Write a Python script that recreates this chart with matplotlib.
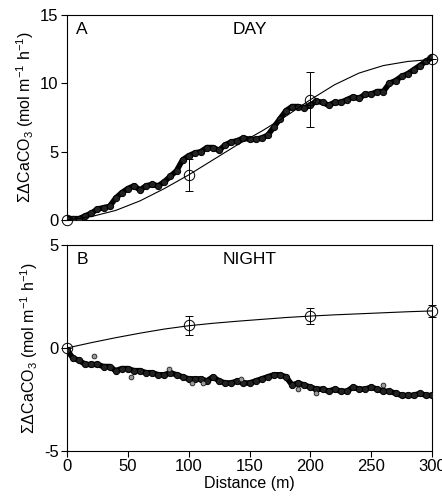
import matplotlib
matplotlib.use("Agg")
import matplotlib.pyplot as plt

plt.rcParams["font.family"] = ["Liberation Sans", "DejaVu Sans"]
plt.rcParams["mathtext.fontset"] = "custom"
plt.rcParams["mathtext.rm"] = "Liberation Sans"
plt.rcParams["mathtext.it"] = "Liberation Sans"
plt.rcParams["axes.unicode_minus"] = False

# distance axis for the continuous traces (m)
trace_x = list(range(0, 305, 5))

# panel A (day) continuous trace
day_trace = [0.1, 0.1, 0.1, 0.3, 0.5, 0.8, 0.9, 1.0, 1.6, 2.0,
             2.3, 2.5, 2.2, 2.5, 2.6, 2.5, 2.8, 3.2, 3.6, 4.4,
             4.7, 4.9, 5.0, 5.3, 5.3, 5.1, 5.5, 5.7, 5.8, 6.0,
             5.9, 5.9, 6.0, 6.2, 6.8, 7.4, 8.0, 8.3, 8.3, 8.2,
             8.4, 8.7, 8.6, 8.4, 8.6, 8.6, 8.8, 9.0, 8.9, 9.2,
             9.2, 9.4, 9.4, 10.0, 10.2, 10.5, 10.7, 11.0, 11.3, 11.6,
             11.9]

# panel B (night) continuous trace
night_trace = [-0.1, -0.5, -0.6, -0.8, -0.8, -0.8, -0.9, -0.9, -1.1, -1.0,
               -1.0, -1.1, -1.1, -1.2, -1.2, -1.3, -1.3, -1.2, -1.3, -1.4,
               -1.5, -1.5, -1.5, -1.6, -1.4, -1.6, -1.7, -1.7, -1.6, -1.7,
               -1.7, -1.6, -1.5, -1.4, -1.3, -1.3, -1.4, -1.8, -1.7, -1.8,
               -1.9, -2.0, -2.0, -2.1, -2.0, -2.1, -2.1, -1.9, -2.0, -2.0,
               -1.9, -2.0, -2.1, -2.1, -2.2, -2.3, -2.3, -2.3, -2.2, -2.3,
               -2.3]

# stray night points
night_stray_x = [22, 53, 84, 103, 112, 143, 190, 205, 260]
night_stray_y = [-0.4, -1.4, -1.0, -1.7, -1.7, -1.5, -2.0, -2.2, -1.8]

# station means with error bars
stations = [0, 100, 200, 300]
day_mean = [0.0, 3.3, 8.8, 11.8]
day_err = [0.0, 1.2, 2.0, 0.0]
night_mean = [0.0, 1.1, 1.55, 1.8]
night_err = [0.0, 0.45, 0.4, 0.3]

# fitted curves
fit_x = [0, 20, 40, 60, 80, 100, 120, 140, 160, 180, 200, 220, 240, 260, 280, 300]
day_fit = [0.0, 0.25, 0.7, 1.4, 2.3, 3.3, 4.4, 5.5, 6.5, 7.6, 8.8, 9.9, 10.75, 11.3, 11.6, 11.75]
night_fit = [0.0, 0.26, 0.5, 0.72, 0.92, 1.08, 1.2, 1.3, 1.39, 1.48, 1.55, 1.61, 1.66, 1.71, 1.76, 1.8]

ylabel = r"$\Sigma\Delta$CaCO$_3$ (mol m$^{-1}$ h$^{-1}$)"

fig = plt.figure(figsize=(4.42, 4.98), dpi=100)
ax_a = fig.add_axes([0.1516, 0.5582, 0.8258, 0.4117])
ax_b = fig.add_axes([0.1516, 0.0944, 0.8258, 0.4136])


def draw_panel(ax, trace, fit, mean, err, letter, title):
    ax.plot(trace_x, trace, color="black", lw=4, zorder=2, solid_capstyle="round")
    ax.plot(trace_x, trace, ls="none", marker="o", ms=4.5, mfc="#222222",
            mec="black", mew=0.7, zorder=3)
    ax.plot(fit_x, fit, color="black", lw=0.8, zorder=4)
    ax.errorbar(stations, mean, yerr=err, fmt="o", ms=7.5, mfc="none",
                mec="black", mew=0.7, ecolor="black", elinewidth=0.7,
                capsize=3, capthick=0.7, zorder=5, clip_on=False)
    ax.text(0.025, 0.965, letter, transform=ax.transAxes, ha="left", va="top",
            fontsize=12.5)
    ax.text(0.5, 0.965, title, transform=ax.transAxes, ha="center", va="top",
            fontsize=12.5)
    ax.set_xlim(0, 300)
    for s in ax.spines.values():
        s.set_linewidth(0.8)
    ax.tick_params(direction="out", length=4, width=0.8, labelsize=12, pad=2)
    ax.set_ylabel(ylabel, fontsize=11.5, labelpad=3)


draw_panel(ax_a, day_trace, day_fit, day_mean, day_err, "A", "DAY")
ax_a.set_ylim(0, 15)
ax_a.set_yticks([0, 5, 10, 15])
ax_a.tick_params(axis="x", bottom=False, labelbottom=False)

draw_panel(ax_b, night_trace, night_fit, night_mean, night_err, "B", "NIGHT")
ax_b.plot(night_stray_x, night_stray_y, ls="none", marker="o", ms=3.5,
          mfc="#999999", mec="black", mew=0.5, zorder=3)
ax_b.set_ylim(-5, 5)
ax_b.set_yticks([-5, 0, 5])
ax_b.set_xticks([0, 50, 100, 150, 200, 250, 300])
ax_b.set_xlabel("Distance (m)", fontsize=11.5, labelpad=1)

fig.savefig("out.png", dpi=100)
